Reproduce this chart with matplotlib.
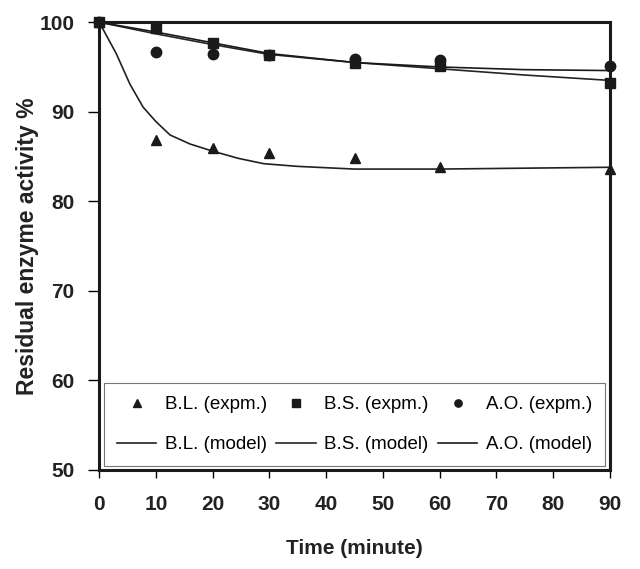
import matplotlib
matplotlib.use("Agg")
import matplotlib.pyplot as plt

plt.rcParams['font.family'] = ['Liberation Sans', 'DejaVu Sans']

# Experimental data
t_exp = [0, 10, 20, 30, 45, 60, 90]
bl_exp = [100, 86.9, 85.9, 85.4, 84.8, 83.8, 83.6]
bs_exp = [100, 99.3, 97.7, 96.3, 95.4, 95.1, 93.2]
ao_exp = [100, 96.7, 96.4, 96.3, 95.9, 95.8, 95.1]

# Model curves
t_bl_model = [0, 3, 5.4, 7.75, 10, 12.5, 16, 20, 24.5, 29, 35, 45, 60, 75, 90]
bl_model = [100, 96.5, 93.1, 90.5, 88.9, 87.4, 86.4, 85.6, 84.8, 84.2, 83.9, 83.6, 83.6, 83.7, 83.8]

t_up_model = [0, 10, 20, 30, 45, 60, 75, 90]
bs_model = [100, 98.7, 97.5, 96.4, 95.5, 94.8, 94.1, 93.5]
ao_model = [100, 98.9, 97.7, 96.5, 95.5, 95.0, 94.7, 94.6]

xticks = [0, 10, 20, 30, 40, 50, 60, 70, 80, 90]
yticks = [50, 60, 70, 80, 90, 100]

fig = plt.figure(figsize=(6.4, 5.69), dpi=100)
ax = fig.add_axes([0.155, 0.174, 0.798, 0.787])

ax.plot(t_exp, bl_exp, linestyle='none', marker='^', color='#1a1a1a', markersize=7.5, label='B.L. (expm.)', clip_on=False, zorder=4)
ax.plot(t_bl_model, bl_model, color='#2a1a2a', lw=1.2, label='B.L. (model)', clip_on=False, zorder=3)
ax.plot(t_exp, bs_exp, linestyle='none', marker='s', color='#1a1a1a', markersize=7.5, label='B.S. (expm.)', clip_on=False, zorder=4)
ax.plot(t_up_model, bs_model, color='#1f2a1a', lw=1.2, label='B.S. (model)', clip_on=False, zorder=3)
ax.plot(t_exp, ao_exp, linestyle='none', marker='o', color='#1a1a1a', markersize=7.5, label='A.O. (expm.)', clip_on=False, zorder=4)
ax.plot(t_up_model, ao_model, color='#1a1a1a', lw=1.2, label='A.O. (model)', clip_on=False, zorder=3)

ax.set_xlim(0, 90)
ax.set_ylim(50, 100)
ax.set_xticks(xticks)
ax.set_yticks(yticks)
for s in ax.spines.values():
    s.set_linewidth(2.2)
    s.set_color('#1a1a1a')

ax.tick_params(axis='x', direction='out', length=6, width=1, pad=12, labelsize=15)
ax.tick_params(axis='y', direction='out', length=8, width=1, pad=10, labelsize=15)
for lab in ax.get_xticklabels() + ax.get_yticklabels():
    lab.set_fontweight('bold')
    lab.set_color('#222222')

ax.set_xlabel('Time (minute)', fontsize=15, fontweight='bold', labelpad=18, color='#222222')
ax.set_ylabel('Residual enzyme activity %', fontsize=16.5, fontweight='bold', labelpad=0, color='#222222')

leg = ax.legend(ncol=3, loc='lower center', bbox_to_anchor=(0.5, 0.0), fontsize=13.5,
                frameon=True, fancybox=False, edgecolor='#555555', handlelength=2.1,
                handletextpad=0.45, columnspacing=0.5, borderpad=0.7, labelspacing=1.2,
                markerscale=0.7, borderaxespad=0.2)
leg.get_frame().set_linewidth(0.8)

fig.savefig('out.png', dpi=100)
